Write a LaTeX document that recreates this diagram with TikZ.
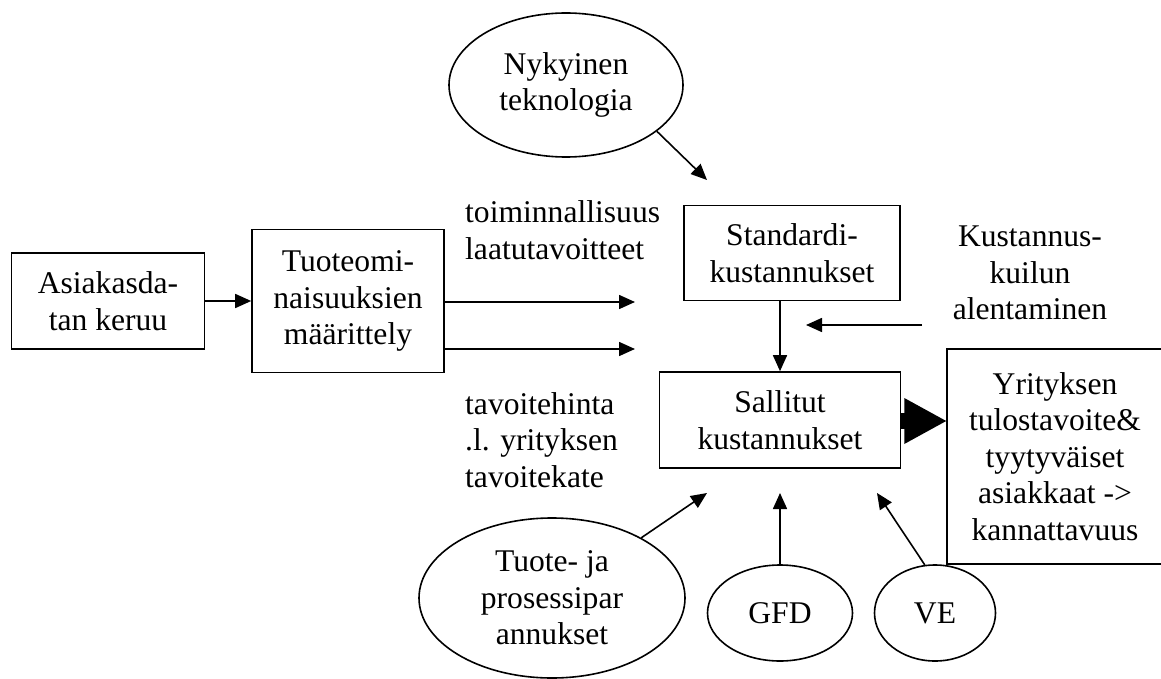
\documentclass[tikz,border=0pt]{standalone}
\usepackage{fontspec}
\setmainfont{Liberation Serif}
\usetikzlibrary{shapes.geometric,arrows.meta,calc}
\begin{document}
\begin{tikzpicture}[x=1pt,y=-1pt,
  txt/.style={font=\fontsize{31.6}{36.5}\selectfont, inner sep=0pt},
  box/.style={txt, draw, line width=1.6pt, rectangle, align=center},
  ell/.style={txt, draw, line width=1.6pt, ellipse, align=center},
  arr/.style={line width=1.6pt, -{Triangle[length=16pt,width=14pt]}}]
\useasboundingbox (0,0) rectangle (1161,679);
\clip (0,0) rectangle (1161,679);
% boxes
\node[box, minimum width=193pt, minimum height=96pt] (asi) at (108,301) {Asiakasda-\\tan keruu};
\node[box, minimum width=192pt, minimum height=143pt] (tuo) at (348,301) {Tuoteomi-\\naisuuksien\\määrittely};
\node[box, minimum width=216pt, minimum height=95pt] (std) at (792,253) {Standardi-\\kustannukset};
\node[box, minimum width=241pt, minimum height=96pt] (sal) at (780,420) {Sallitut\\kustannukset};
\node[box, minimum width=216pt, minimum height=215pt] (yri) at (1055,456.5) {Yrityksen\\tulostavoite\&\\tyytyväiset\\asiakkaat ->\\kannattavuus};
% ellipses
\node[ell, minimum width=234pt, minimum height=144pt] (nyk) at (566,85) {Nykyinen\\teknologia};
\node[ell, minimum width=266pt, minimum height=160pt] (tpr) at (552,598) {Tuote- ja\\prosessipar\\annukset};
\node[ell, minimum width=145pt, minimum height=96pt] (gfd) at (780,613) {GFD};
\node[ell, minimum width=121pt, minimum height=96pt] (ve) at (935,613) {VE};
% free texts
\node[txt, align=left, anchor=west] (lab1) at (465,230) {toiminnallisuus\\laatutavoitteet};
\node[txt, align=left, anchor=west] (lab2) at (465,440) {tavoitehinta\\.l. yrityksen\\tavoitekate};
\node[txt, align=center] (kus) at (1030,273) {Kustannus-\\kuilun\\alentaminen};
% free arrow ends
\coordinate (a1) at (635,302);
\coordinate (a2) at (635,349);
\coordinate (tn) at (707,180);
\coordinate (kstart) at (922,325);
\coordinate (kend) at (806,325);
\coordinate (tt) at (707,493);
\coordinate (tg) at (780,493);
\coordinate (tv) at (877,493);
% connectors
\draw[arr] (asi.east) -- (tuo.west);
\draw[arr] (tuo.east |- a1) -- (a1);
\draw[arr] (tuo.east |- a2) -- (a2);
\draw[arr] (nyk.-27) -- (tn);
\draw[arr] (std.south -| sal.north) -- (sal.north);
\draw[arr] (kstart) -- (kend);
\draw[arr] (tpr.34) -- (tt);
\draw[arr] (gfd.north) -- (tg);
\draw[arr] (ve.102) -- (tv);
% thick arrow
\draw[line width=16pt] ($(sal.east)+(0,1)$) -- ($(sal.east)+(12,1)$);
\fill ($(sal.east)+(3,-22)$) -- ($(yri.west |- sal.east)+(0,1)$) -- ($(sal.east)+(3,24)$) -- cycle;
\end{tikzpicture}
\end{document}
